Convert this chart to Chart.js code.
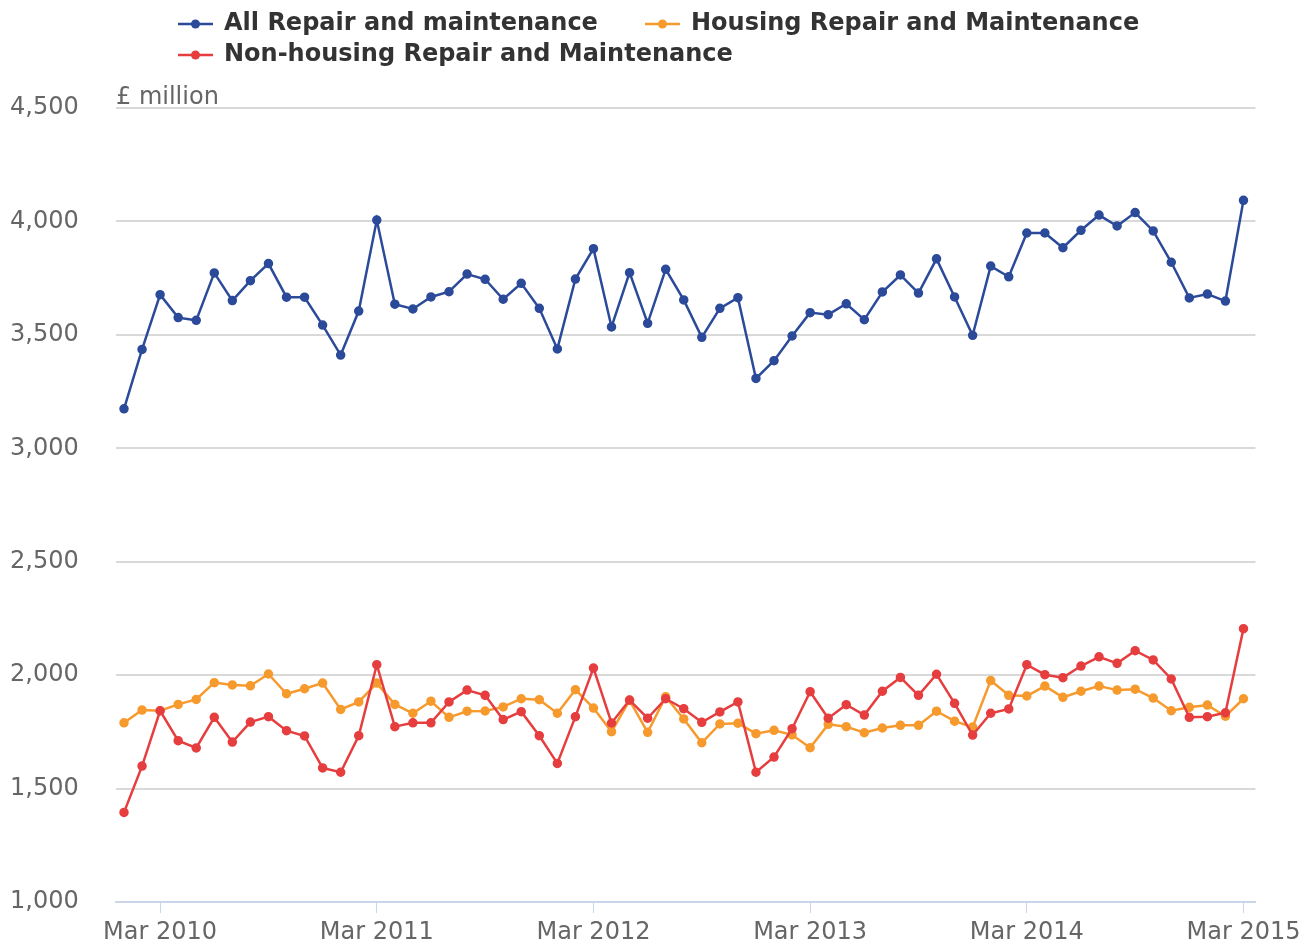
<!DOCTYPE html>
<html>
<head>
<meta charset="utf-8">
<title>Repair and maintenance output</title>
<script src="https://cdn.jsdelivr.net/npm/chart.js@4.4.1/dist/chart.umd.min.js"></script>
<style>
  html, body { margin: 0; padding: 0; background: #ffffff; }
  #chart { display: block; }
</style>
</head>
<body>
<canvas id="chart" width="1306" height="945"></canvas>
<script>
// Monthly values, Jan 2010 - Mar 2015, £ million
const allRepair = [
    3174, 3436, 3677, 3576, 3564, 3773, 3651, 3739, 3814, 3666,
    3666, 3543, 3411, 3605, 4006, 3635, 3614, 3667, 3690, 3768,
    3745, 3657, 3727, 3617, 3438, 3746, 3880, 3535, 3774, 3551,
    3789, 3654, 3489, 3617, 3664, 3308, 3386, 3495, 3598, 3589,
    3637, 3567, 3689, 3764, 3684, 3835, 3667, 3498, 3803, 3756,
    3949, 3949, 3884, 3961, 4028, 3980, 4039, 3958, 3820, 3663,
    3680, 3649, 4093
];
const housingRepair = [
    1790, 1846, 1843, 1871, 1893, 1967, 1957, 1953, 2005, 1918,
    1940, 1965, 1849, 1882, 1965, 1871, 1832, 1885, 1814, 1841,
    1842, 1860, 1896, 1892, 1832, 1936, 1855, 1751, 1889, 1748,
    1905, 1807, 1702, 1785, 1788, 1742, 1757, 1737, 1680, 1783,
    1773, 1746, 1767, 1779, 1779, 1841, 1797, 1771, 1976, 1911,
    1908, 1952, 1902, 1929, 1952, 1934, 1938, 1899, 1843, 1858,
    1868, 1819, 1896
];
const nonHousingRepair = [
    1395, 1599, 1843, 1711, 1679, 1814, 1705, 1793, 1817, 1755,
    1732, 1591, 1572, 1733, 2046, 1773, 1790, 1790, 1882, 1934,
    1911, 1804, 1839, 1733, 1611, 1817, 2031, 1789, 1890, 1810,
    1896, 1852, 1792, 1838, 1882, 1572, 1639, 1764, 1927, 1810,
    1870, 1824, 1929, 1990, 1911, 2004, 1876, 1736, 1832, 1851,
    2046, 2002, 1989, 2040, 2081, 2052, 2108, 2067, 1983, 1814,
    1817, 1834, 2205
];

// x ticks: month index (0 = Jan 2010) and label
const tickIndex = [2, 14, 26, 38, 50, 62];
const tickLabels = ['Mar 2010', 'Mar 2011', 'Mar 2012', 'Mar 2013', 'Mar 2014', 'Mar 2015'];

const seriesNames = [
    'All Repair and maintenance',
    'Housing Repair and Maintenance',
    'Non-housing Repair and Maintenance'
];
const seriesColors = ['#2b4a99', '#f79a2e', '#e63e3f'];

const FONT = "'DejaVu Sans', sans-serif";

function toPoints(values) {
    return values.map((v, i) => ({ x: i, y: v }));
}

function makeDataset(idx, values, order) {
    return {
        label: seriesNames[idx],
        data: toPoints(values),
        borderColor: seriesColors[idx],
        backgroundColor: seriesColors[idx],
        pointBackgroundColor: seriesColors[idx],
        pointBorderColor: seriesColors[idx],
        borderWidth: 2.5,
        pointRadius: 4,
        pointBorderWidth: 1.5,
        tension: 0,
        order: order
    };
}

// legend + axis title, drawn Highcharts-style (rows left aligned)
const legendPlugin = {
    id: 'customLegend',
    afterDraw(chart) {
        const ctx = chart.ctx;
        const items = [
            { x: 178, y: 24 },
            { x: 645, y: 24 },
            { x: 178, y: 55 }
        ];
        ctx.save();
        items.forEach((it, i) => {
            ctx.strokeStyle = seriesColors[i];
            ctx.lineWidth = 2.5;
            ctx.beginPath();
            ctx.moveTo(it.x, it.y);
            ctx.lineTo(it.x + 35, it.y);
            ctx.stroke();
            ctx.fillStyle = seriesColors[i];
            ctx.beginPath();
            ctx.arc(it.x + 17.5, it.y, 4.5, 0, Math.PI * 2);
            ctx.fill();

            ctx.fillStyle = '#333333';
            ctx.font = 'bold 24px ' + FONT;
            ctx.textBaseline = 'middle';
            ctx.textAlign = 'left';
            ctx.fillText(seriesNames[i], it.x + 46, it.y);
        });

        ctx.fillStyle = '#666666';
        ctx.font = '24px ' + FONT;
        ctx.textBaseline = 'middle';
        ctx.fillText('£ million', chart.chartArea.left, 98);
        ctx.restore();
    }
};

const ctx = document.getElementById('chart');

new Chart(ctx, {
    type: 'line',
    data: {
        datasets: [
            makeDataset(0, allRepair, 2),
            makeDataset(1, housingRepair, 1),
            makeDataset(2, nonHousingRepair, 0)
        ]
    },
    options: {
        responsive: false,
        animation: false,
        devicePixelRatio: 1,
        layout: {
            padding: { top: 108, right: 50, left: 10, bottom: 0 }
        },
        plugins: {
            legend: { display: false },
            title: { display: false },
            tooltip: { enabled: false }
        },
        scales: {
            x: {
                type: 'linear',
                min: -0.443,
                max: 62.664,
                afterBuildTicks: scale => {
                    scale.ticks = tickIndex.map(v => ({ value: v }));
                },
                afterFit: scale => {
                    scale.height = 43;
                },
                grid: {
                    drawOnChartArea: false,
                    drawTicks: true,
                    tickLength: 11,
                    color: '#ccd6eb',
                    lineWidth: 1
                },
                border: {
                    display: true,
                    color: '#ccd6eb',
                    width: 2
                },
                ticks: {
                    autoSkip: false,
                    maxRotation: 0,
                    padding: 5,
                    color: '#666666',
                    font: { family: FONT, size: 24 },
                    callback: v => tickLabels[tickIndex.indexOf(v)]
                }
            },
            y: {
                min: 1000,
                max: 4500,
                afterFit: scale => {
                    scale.width = 106;
                },
                grid: {
                    color: '#d9d9d9',
                    lineWidth: 2,
                    drawTicks: false
                },
                border: { display: false },
                ticks: {
                    stepSize: 500,
                    padding: 0,
                    crossAlign: 'far',
                    color: '#666666',
                    font: { family: FONT, size: 24 },
                    callback: v => v.toLocaleString('en-GB')
                }
            }
        }
    },
    plugins: [legendPlugin]
});
</script>
</body>
</html>
